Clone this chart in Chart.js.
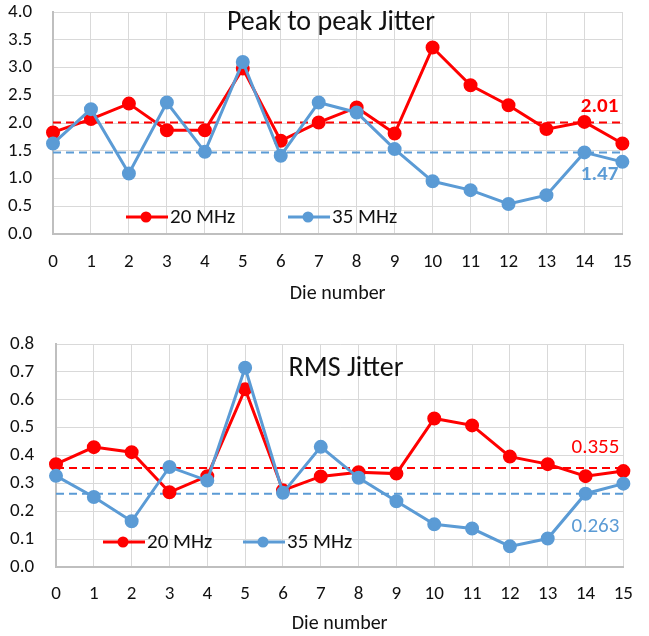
<!DOCTYPE html>
<html>
<head>
<meta charset="utf-8">
<script src="https://cdn.jsdelivr.net/npm/chart.js@4.4.0/dist/chart.umd.min.js"></script>
<style>
    body { margin: 0; background: #fff; }
    #ppWrap { position: absolute; left: 0; top: 0; width: 649px; height: 310px; }
    #rmsWrap { position: absolute; left: 0; top: 318px; width: 649px; height: 318px; }
</style>
</head>
<body>
<div id="ppWrap"><canvas id="ppChart"></canvas></div>
<div id="rmsWrap"><canvas id="rmsChart"></canvas></div>
<script>
// die numbers on the x axis
const dies = ['0','1','2','3','4','5','6','7','8','9','10','11','12','13','14','15'];

// peak to peak jitter
const pp20 = [1.83, 2.07, 2.35, 1.87, 1.87, 2.98, 1.68, 2.01, 2.28, 1.81, 3.36, 2.68, 2.32, 1.89, 2.02, 1.63];
const pp35 = [1.63, 2.25, 1.09, 2.37, 1.48, 3.10, 1.41, 2.37, 2.19, 1.53, 0.95, 0.79, 0.54, 0.70, 1.47, 1.30];
const ppAvg20 = 2.01;
const ppAvg35 = 1.47;

// rms jitter
const rms20 = [0.369, 0.430, 0.412, 0.268, 0.326, 0.638, 0.275, 0.325, 0.340, 0.335, 0.533, 0.508, 0.396, 0.369, 0.326, 0.344];
const rms35 = [0.327, 0.251, 0.164, 0.359, 0.310, 0.715, 0.266, 0.431, 0.320, 0.236, 0.153, 0.138, 0.074, 0.102, 0.263, 0.299];
const rmsAvg20 = 0.355;
const rmsAvg35 = 0.263;

const RED = '#ff0000';
const BLUE = '#5b9bd5';
const FONT = 'Carlito, Calibri, Lato, sans-serif';
const TXT = '#111';

// dashed mean lines, value labels, title and the legend inside the plot
const jitterDecor = {
    id: 'jitterDecor',
    beforeDatasetsDraw(chart, args, opts) {
        const {ctx, chartArea, scales} = chart;
        opts.means.forEach(m => {
            const y = scales.y.getPixelForValue(m.value);
            ctx.save();
            ctx.strokeStyle = m.color;
            ctx.lineWidth = 2;
            ctx.setLineDash([8, 5]);
            ctx.beginPath();
            ctx.moveTo(chartArea.left, y);
            ctx.lineTo(chartArea.right, y);
            ctx.stroke();
            ctx.restore();
        });
    },
    afterDatasetsDraw(chart, args, opts) {
        const {ctx, chartArea, scales} = chart;
        ctx.save();
        // mean value labels
        opts.means.forEach(m => {
            const y = scales.y.getPixelForValue(m.value);
            ctx.font = m.font;
            ctx.fillStyle = m.color;
            ctx.textAlign = 'right';
            ctx.textBaseline = 'middle';
            ctx.fillText(m.text, chartArea.right - 4, y + m.dy);
        });
        // title
        ctx.font = opts.titleFont;
        ctx.fillStyle = TXT;
        ctx.textAlign = 'center';
        ctx.textBaseline = 'middle';
        ctx.fillText(opts.title, opts.titleX, chartArea.top + opts.titleDy);
        // legend
        const ly = chartArea.bottom - opts.legendDy;
        chart.data.datasets.forEach((ds, i) => {
            const x0 = chartArea.left + opts.legendX[i];
            ctx.strokeStyle = ds.borderColor;
            ctx.lineWidth = 3;
            ctx.beginPath();
            ctx.moveTo(x0, ly);
            ctx.lineTo(x0 + 42, ly);
            ctx.stroke();
            ctx.fillStyle = ds.borderColor;
            ctx.beginPath();
            ctx.arc(x0 + 20, ly, 5.5, 0, Math.PI * 2);
            ctx.fill();
            ctx.font = '21px ' + FONT;
            ctx.fillStyle = TXT;
            ctx.textAlign = 'left';
            ctx.fillText(ds.label, x0 + 44, ly + 1);
        });
        ctx.restore();
    }
};

function makeChart(id, s20, s35, yMax, yStep, decor, pad, yWidth, xHeight, tickPad, titlePad) {
    const ctx = document.getElementById(id).getContext('2d');
    return new Chart(ctx, {
        type: 'line',
        data: {
            labels: dies,
            datasets: [{
                label: '20 MHz',
                data: s20,
                borderColor: RED,
                backgroundColor: RED,
                borderWidth: 3,
                pointRadius: 5.5,
                pointHoverRadius: 5.5,
                order: 1
            }, {
                label: '35 MHz',
                data: s35,
                borderColor: BLUE,
                backgroundColor: BLUE,
                borderWidth: 3,
                pointRadius: 5.5,
                pointHoverRadius: 5.5,
                order: 0
            }]
        },
        options: {
            responsive: true,
            maintainAspectRatio: false,
            animation: false,
            layout: { padding: pad },
            plugins: {
                legend: { display: false },
                tooltip: { enabled: false },
                jitterDecor: decor
            },
            scales: {
                x: {
                    grid: { color: '#d9d9d9', drawTicks: false },
                    border: { color: '#bfbfbf', width: 2 },
                    ticks: { color: TXT, font: { family: FONT, size: 19 }, padding: tickPad, maxRotation: 0, autoSkip: false },
                    title: { display: true, text: 'Die number', color: TXT, font: { family: FONT, size: 20 }, padding: { top: 0, bottom: titlePad } },
                    afterFit(scale) { scale.height = xHeight; }
                },
                y: {
                    min: 0,
                    max: yMax,
                    grid: { color: '#d9d9d9', drawTicks: false },
                    border: { color: '#bfbfbf', width: 2 },
                    ticks: { stepSize: yStep, color: TXT, font: { family: FONT, size: 19 }, padding: 0, crossAlign: 'far', callback: v => v.toFixed(1) },
                    afterFit(scale) { scale.width = yWidth; }
                }
            }
        },
        plugins: [jitterDecor]
    });
}

makeChart('ppChart', pp20, pp35, 4, 0.5, {
    title: 'Peak to peak Jitter',
    titleFont: '28px ' + FONT,
    titleX: 331,
    titleDy: 11,
    legendX: [73, 235],
    legendDy: 17,
    means: [
        { value: ppAvg20, text: ppAvg20.toFixed(2), color: RED, font: 'bold 21px ' + FONT, dy: -16 },
        { value: ppAvg35, text: ppAvg35.toFixed(2), color: BLUE, font: 'bold 21px ' + FONT, dy: 22 }
    ]
}, { top: 12, right: 11, left: 8, bottom: 0 }, 45, 76, 17, 4);

makeChart('rmsChart', rms20, rms35, 0.8, 0.1, {
    title: 'RMS Jitter',
    titleFont: '28px ' + FONT,
    titleX: 346,
    titleDy: 25,
    legendX: [47, 187],
    legendDy: 25,
    means: [
        { value: rmsAvg20, text: rmsAvg20.toFixed(3), color: RED, font: '21px ' + FONT, dy: -20 },
        { value: rmsAvg35, text: rmsAvg35.toFixed(3), color: BLUE, font: '21px ' + FONT, dy: 33 }
    ]
}, { top: 26, right: 12, left: 10, bottom: 0 }, 46, 69, 16, 0);
</script>
</body>
</html>
